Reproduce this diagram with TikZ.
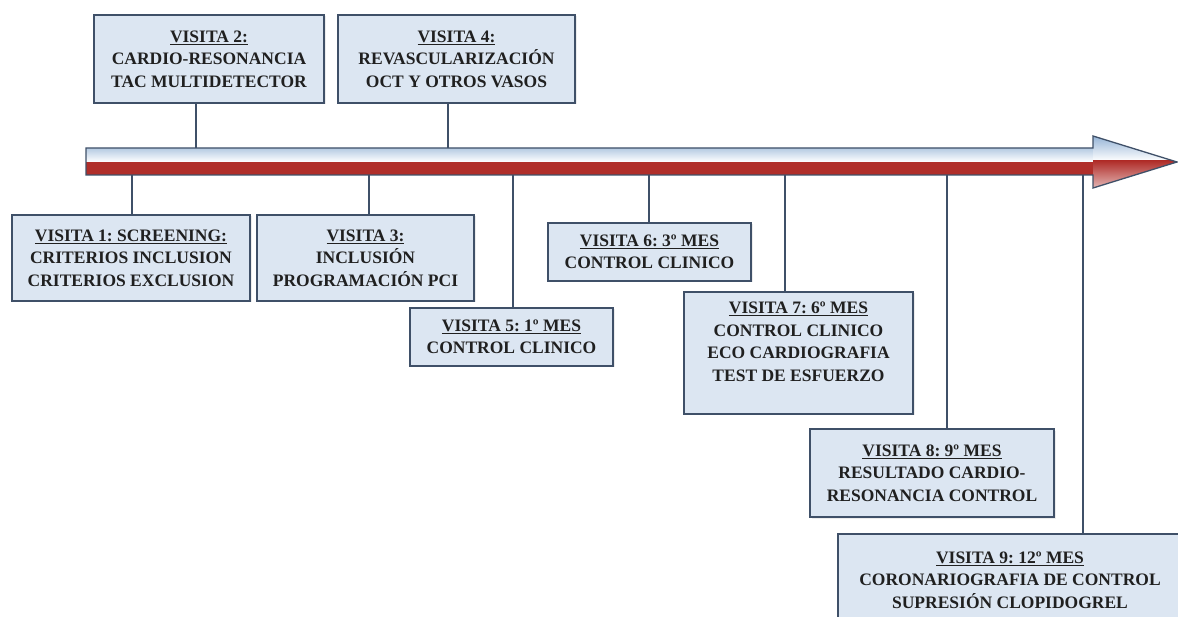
\documentclass[tikz,border=0pt]{standalone}
\usepackage{fontspec}
\setmainfont{Liberation Serif}
\usepackage{tikz}
\usetikzlibrary{shadows}

\definecolor{boxfill}{HTML}{DCE6F2}
\definecolor{boxline}{HTML}{3F5068}
\definecolor{txtgray}{HTML}{202020}
\definecolor{arrowblue}{HTML}{8DAED3}
\definecolor{arrowred}{HTML}{B02E2A}

\frenchspacing

\begin{document}
\begin{tikzpicture}[x=1pt, y=-1pt,
    visita/.style={rectangle, draw=boxline, line width=1.8pt, fill=boxfill,
        align=center, inner sep=0pt, text=txtgray,
        font=\fontsize{17.5}{22.5}\selectfont\bfseries,
        drop shadow={opacity=0.15, shadow xshift=1.5pt, shadow yshift=-1.5pt}},
    link/.style={draw=boxline, line width=1.5pt}]

    \useasboundingbox[fill=white] (0,0) rectangle (1178,617);

    % time line
    \begin{scope}
        \clip (86,148) -- (1093,148) -- (1093,136) -- (1177,162) -- (1093,188)
            -- (1093,175) -- (86,175) -- cycle;
        \shade[top color=arrowblue!70, bottom color=white] (80,147) rectangle (1094,162);
        \shade[top color=arrowblue, bottom color=white] (1093,134) rectangle (1180,161);
        \fill[arrowred] (80,162) rectangle (1094,176);
        \shade[top color=arrowred, bottom color=arrowred!30] (1093,161) rectangle (1180,190);
    \end{scope}
    \draw[boxline, line width=1.3pt] (86,148) -- (1093,148) -- (1093,136) -- (1177,162)
        -- (1093,188) -- (1093,175) -- (86,175) -- cycle;

    \coordinate (t1) at (132,175);
    \coordinate (t2) at (196,148);
    \coordinate (t3) at (369,175);
    \coordinate (t4) at (448,148);
    \coordinate (t5) at (513,175);
    \coordinate (t6) at (649,175);
    \coordinate (t7) at (785,175);
    \coordinate (t8) at (947,175);
    \coordinate (t9) at (1083,175);

    \node[visita, minimum width=238, minimum height=86] (v1) at (131,258)
        {\underline{VISITA 1: SCREENING:}\\ CRITERIOS INCLUSION\\ CRITERIOS EXCLUSION};
    \node[visita, minimum width=230, minimum height=88] (v2) at (209,59)
        {\underline{VISITA 2:}\\ CARDIO-RESONANCIA\\ TAC MULTIDETECTOR};
    \node[visita, minimum width=217, minimum height=86] (v3) at (365.5,258)
        {\underline{VISITA 3:}\\ INCLUSIÓN\\ PROGRAMACIÓN PCI};
    \node[visita, minimum width=237, minimum height=88] (v4) at (456.5,59)
        {\underline{VISITA 4:}\\ REVASCULARIZACIÓN\\ OCT Y OTROS VASOS};
    \node[visita, minimum width=203, minimum height=58] (v5) at (511.5,337)
        {\underline{VISITA 5: 1º MES}\\ CONTROL CLINICO};
    \node[visita, minimum width=203, minimum height=58] (v6) at (649.5,252)
        {\underline{VISITA 6: 3º MES}\\ CONTROL CLINICO};
    \node[visita, minimum width=229, minimum height=122] (v7) at (798.5,353)
        {\underline{VISITA 7: 6º MES}\\ CONTROL CLINICO\\ ECO CARDIOGRAFIA\\ TEST DE ESFUERZO\\ \mbox{}};
    \node[visita, minimum width=244, minimum height=88] (v8) at (932,473)
        {\underline{VISITA 8: 9º MES}\\ RESULTADO CARDIO-\\ RESONANCIA CONTROL};
    \node[visita, minimum width=344, minimum height=92] (v9) at (1010,580)
        {\underline{VISITA 9: 12º MES}\\ CORONARIOGRAFIA DE CONTROL\\ SUPRESIÓN CLOPIDOGREL};

    \draw[link] (v2.south -| t2) -- (t2);
    \draw[link] (v4.south -| t4) -- (t4);
    \foreach \v in {1,3,5,6,7,8,9}
        \draw[link] (t\v) -- (t\v |- v\v.north);

\end{tikzpicture}
\end{document}
